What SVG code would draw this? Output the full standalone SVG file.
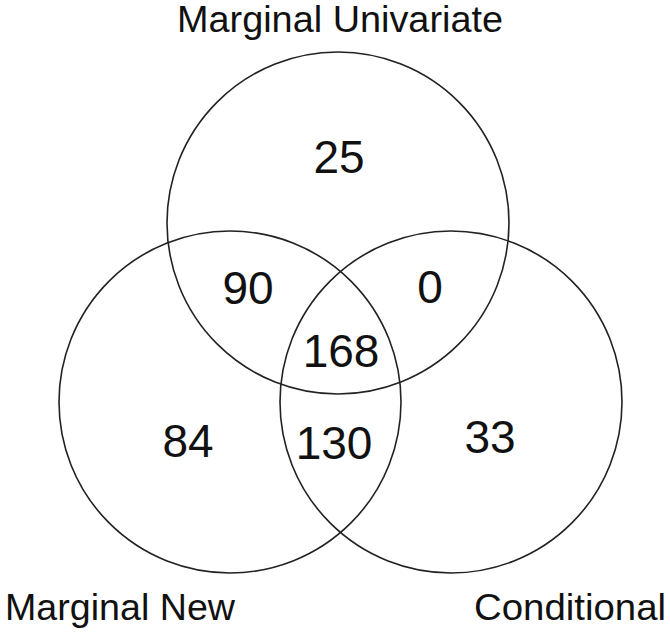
<svg xmlns="http://www.w3.org/2000/svg" width="670" height="633" viewBox="0 0 670 633">
<style>
.set{fill:none;stroke:#222;stroke-width:1.6}
.num{font-family:"Liberation Sans",Arial,sans-serif;font-size:46px;fill:#111;text-anchor:middle}
.lbl{font-family:"Liberation Sans",Arial,sans-serif;font-size:36px;fill:#111}
</style>
<rect width="670" height="633" fill="#fff"/>
<g id="connectors"></g>
<g id="set-marginal-univariate">
<circle class="set" cx="338" cy="223" r="171"/>
<text class="lbl" x="340" y="32" text-anchor="middle" textLength="326" lengthAdjust="spacingAndGlyphs">Marginal Univariate</text>
</g>
<g id="set-marginal-new">
<circle class="set" cx="230" cy="402" r="171"/>
<text class="lbl" x="5" y="620" textLength="230" lengthAdjust="spacingAndGlyphs">Marginal New</text>
</g>
<g id="set-conditional">
<circle class="set" cx="451" cy="402" r="171"/>
<text class="lbl" x="474" y="620" textLength="192" lengthAdjust="spacingAndGlyphs">Conditional</text>
</g>
<g id="counts">
<text class="num" x="339" y="173">25</text>
<text class="num" x="248" y="304">90</text>
<text class="num" x="430" y="303">0</text>
<text class="num" x="341" y="367">168</text>
<text class="num" x="188" y="457">84</text>
<text class="num" x="334" y="459">130</text>
<text class="num" x="490" y="453">33</text>
</g>
</svg>
